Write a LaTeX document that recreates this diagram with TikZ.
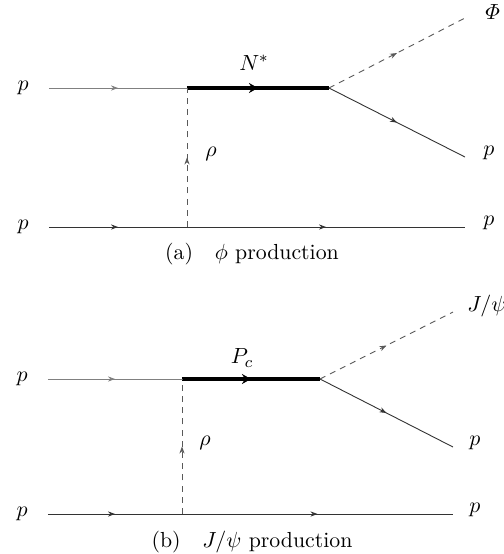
\documentclass[tikz,border=0pt]{standalone}
\usepackage{amsmath}
\usepackage{amssymb}
\usepackage{tikz}
\usetikzlibrary{positioning,decorations.markings,arrows.meta}

\tikzset{
  midarrow/.style={postaction={decorate},
    decoration={markings,mark=at position 0.5 with {\arrow{#1}}}},
  fermion/.style={draw=black!80, line width=0.45pt,
    midarrow={Stealth[length=3.5pt,width=2.6pt]}},
  fermionin/.style={fermion, draw=black!50},
  scalar/.style={draw=black!65, line width=0.45pt, dash pattern=on 3pt off 2.6pt,
    midarrow={Stealth[length=3.5pt,width=2.6pt]}},
  resonance/.style={draw=black, line width=2.1pt,
    midarrow={Stealth[length=4.5pt,width=5pt]}},
  lbl/.style={inner sep=1pt},
}

\begin{document}
\begin{tikzpicture}[x=0.5pt, y=-0.5pt, font=\fontsize{10.9}{13}\selectfont,
  node distance=9pt]
\useasboundingbox (0,0) rectangle (504,554);
% (a) phi production
\coordinate (pin1) at (49,88);
\coordinate (v1) at (187,88);
\coordinate (w1) at (329,88);
\coordinate (phi1) at (465,18);
\coordinate (pout1) at (465,157);
\coordinate (qin1) at (49,227);
\coordinate (u1) at (187,227);
\coordinate (qout1) at (465,227);
\node[lbl, left=of pin1] (lpin1) {$p$};
\node[lbl, left=of qin1] (lqin1) {$p$};
\node[lbl, right=of phi1, yshift=3pt] (lphi1) {$\varPhi$};
\node[lbl, right=8pt of pout1, yshift=2pt] (lpout1) {$p$};
\node[lbl, right=8pt of qout1, yshift=2pt] (lqout1) {$p$};
\node[lbl] (lN1) at (254,63) {$N^*$};
\node[lbl] (lrho1) at (211,154) {$\rho$};
\draw[fermionin] (pin1) -- (v1);
\draw[resonance] (v1) -- (w1);
\draw[scalar] (w1) -- (phi1);
\draw[fermion] (w1) -- (pout1);
\draw[scalar] (u1) -- (v1);
\draw[fermion] (qin1) -- (u1);
\draw[fermion] (u1) -- (qout1);
\node (cap1) at (252,254) {(a)\quad$\phi$ production};
%
% (b) J/psi production
\coordinate (pin2) at (48,379);
\coordinate (v2) at (182,379);
\coordinate (w2) at (320,379);
\coordinate (psi2) at (453,312);
\coordinate (pout2) at (453,447);
\coordinate (qin2) at (48,514);
\coordinate (u2) at (182,514);
\coordinate (qout2) at (453,514);
\node[lbl, left=of pin2] (lpin2) {$p$};
\node[lbl, left=of qin2] (lqin2) {$p$};
\node[lbl, right=6pt of psi2, yshift=3pt] (lpsi2) {$J/\psi$};
\node[lbl, right=7pt of pout2, yshift=2pt] (lpout2) {$p$};
\node[lbl, right=7pt of qout2, yshift=2pt] (lqout2) {$p$};
\node[lbl] (lP2) at (242,358) {$P_c$};
\node[lbl] (lrho2) at (205,443) {$\rho$};
\draw[fermionin] (pin2) -- (v2);
\draw[resonance] (v2) -- (w2);
\draw[scalar] (w2) -- (psi2);
\draw[fermion] (w2) -- (pout2);
\draw[scalar] (u2) -- (v2);
\draw[fermion] (qin2) -- (u2);
\draw[fermion] (u2) -- (qout2);
\node (cap2) at (252,542) {(b)\quad$J/\psi$ production};
\end{tikzpicture}
\end{document}
